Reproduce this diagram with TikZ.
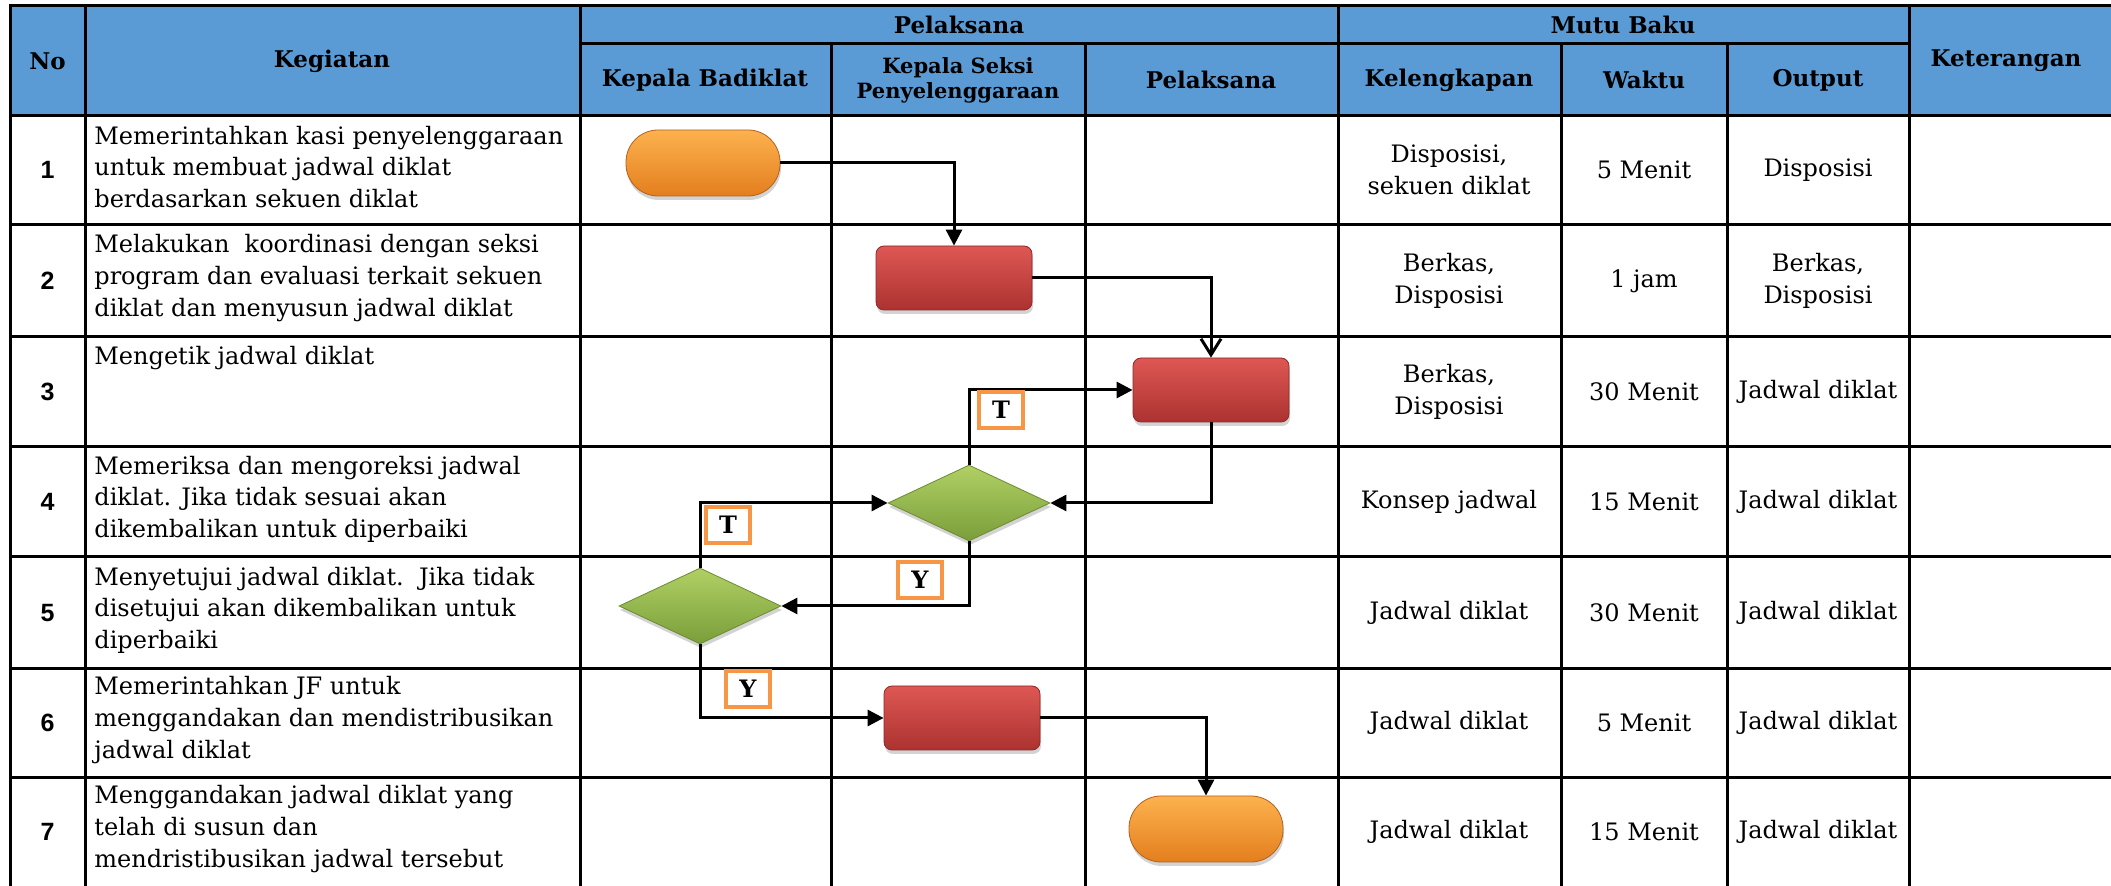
\documentclass[tikz,border=0pt]{standalone}
\usepackage{fontspec}
\setmainfont{DejaVu Serif}
\newfontfamily\nofont{Liberation Sans}
\usetikzlibrary{shapes.geometric,arrows.meta,shadows}
\definecolor{hdrblue}{RGB}{91,155,213}
\definecolor{termtop}{RGB}{252,178,78}
\definecolor{termbot}{RGB}{228,126,30}
\definecolor{termline}{RGB}{178,98,30}
\definecolor{proctop}{RGB}{222,88,84}
\definecolor{procbot}{RGB}{172,50,48}
\definecolor{procline}{RGB}{140,40,40}
\definecolor{dectop}{RGB}{176,208,100}
\definecolor{decbot}{RGB}{122,158,58}
\definecolor{decline}{RGB}{108,138,50}
\definecolor{lblorange}{RGB}{247,150,70}
\tikzset{
	gridline/.style = {line width=1.5pt, line cap=rect},
	conn/.style = {line width=1.5pt, -{Triangle[length=8pt,width=8pt]}},
	term/.style = {rectangle, rounded corners=16pt, minimum width=77pt, minimum height=33pt, top color=termtop, bottom color=termbot, draw=termline, drop shadow={shadow xshift=0.5pt,shadow yshift=-2pt,opacity=0.35}},
	proc/.style = {rectangle, rounded corners=4pt, minimum width=78pt, minimum height=32pt, top color=proctop, bottom color=procbot, draw=procline, drop shadow={shadow xshift=0.5pt,shadow yshift=-2pt,opacity=0.35}},
	dec/.style = {diamond, inner sep=0pt, minimum width=81pt, minimum height=38pt, top color=dectop, bottom color=decbot, draw=decline, drop shadow={shadow xshift=0.5pt,shadow yshift=-2pt,opacity=0.35}},
	yt/.style = {draw=lblorange, line width=2.2pt, fill=white, inner sep=0pt, minimum width=22pt, minimum height=18pt, font=\bfseries\fontsize{12}{12}\selectfont},
	hdr/.style = {font=\bfseries\fontsize{11.5}{13}\selectfont, align=center},
	cell/.style = {font=\fontsize{12}{15.8}\selectfont, align=center},
	task/.style = {font=\fontsize{12}{15.8}\selectfont, align=left, anchor=west, inner sep=0pt},
	num/.style = {font=\nofont\bfseries\fontsize{12.5}{14}\selectfont}
}
\begin{document}
\begin{tikzpicture}[x=0.5pt, y=-0.5pt]
	\useasboundingbox (0,0) rectangle (2111,886);
	\fill[hdrblue] (10,6) rectangle (2115,116);
	\foreach \y in {6,116,225,337,447,557,669,778}
		\draw[gridline] (10,\y) -- (2115,\y);
	\draw[gridline] (580,44) -- (1909,44);
	\foreach \x in {10,85,580,1338,1909}
		\draw[gridline] (\x,6) -- (\x,890);
	\foreach \x in {831,1085,1561,1727}
		\draw[gridline] (\x,44) -- (\x,890);
	% header
	\node[hdr] (hNo) at (47.5,61) {No};
	\node[hdr] (hKeg) at (332,61) {Kegiatan};
	\node[hdr] (hPel) at (959,25) {Pelaksana};
	\node[hdr] (hMutu) at (1623,25) {Mutu Baku};
	\node[hdr] (hKB) at (705,80) {Kepala Badiklat};
	\node[hdr, font=\bfseries\fontsize{10.5}{12.5}\selectfont] (hKS) at (958,80) {Kepala Seksi\\Penyelenggaraan};
	\node[hdr] (hP) at (1211,80) {Pelaksana};
	\node[hdr] (hKel) at (1449,80) {Kelengkapan};
	\node[hdr] (hWak) at (1644,80) {Waktu};
	\node[hdr] (hOut) at (1818,80) {Output};
	\node[hdr] (hKet) at (2006,61) {Keterangan};
	% nomor dan kegiatan
	\foreach \i/\y in {1/170,2/281,3/392,4/502,5/613,6/723,7/832}
		\node[num] (no\i) at (47.5,\y) {\i};
	\node[task] (k1) at (94,167) {Memerintahkan kasi penyelenggaraan\\untuk membuat jadwal diklat\\berdasarkan sekuen diklat};
	\node[task] (k2) at (94,278) {Melakukan\ \ koordinasi dengan seksi\\program dan evaluasi terkait sekuen\\diklat dan menyusun jadwal diklat};
	\node[task, anchor=north west] (k3) at (94,346) {Mengetik jadwal diklat};
	\node[task] (k4) at (94,499) {Memeriksa dan mengoreksi jadwal\\diklat. Jika tidak sesuai akan\\dikembalikan untuk diperbaiki};
	\node[task] (k5) at (94,610) {Menyetujui jadwal diklat.\ \ Jika tidak\\disetujui akan dikembalikan untuk\\diperbaiki};
	\node[task] (k6) at (94,720) {Memerintahkan JF untuk\\menggandakan dan mendistribusikan\\jadwal diklat};
	\node[task] (k7) at (94,829) {Menggandakan jadwal diklat yang\\telah di susun dan\\mendristibusikan jadwal tersebut};
	% mutu baku
	\foreach \i/\y/\kel/\wak/\out in {1/170/{Disposisi,\\sekuen diklat}/5 Menit/Disposisi,
			2/281/{Berkas,\\Disposisi}/1 jam/{Berkas,\\Disposisi},
			3/392/{Berkas,\\Disposisi}/30 Menit/Jadwal diklat,
			4/502/Konsep jadwal/15 Menit/Jadwal diklat,
			5/613/Jadwal diklat/30 Menit/Jadwal diklat,
			6/723/Jadwal diklat/5 Menit/Jadwal diklat,
			7/832/Jadwal diklat/15 Menit/Jadwal diklat}{
		\node[cell] (kel\i) at (1449,\y) {\kel};
		\node[cell] (wak\i) at (1644,\y) {\wak};
		\node[cell] (out\i) at (1818,\y) {\out};
	}
	% alur
	\node[term] (t1) at (703,163) {};
	\node[proc] (p2) at (954,278) {};
	\node[proc] (p3) at (1211,390) {};
	\node[dec] (d4) at (969,503) {};
	\node[dec] (d5) at (700,606) {};
	\node[proc] (p6) at (962,718) {};
	\node[term] (t7) at (1206,829) {};
	\draw[conn] (t1.east) -| (p2.north);
	\draw[conn, -{Straight Barb[length=8pt,width=10pt]}] (p2.east) -| (p3.north);
	\draw[conn] (p3.south) |- (d4.east);
	\draw[conn] (d4.north) |- (p3.west);
	\draw[conn] (d4.south) |- (d5.east);
	\draw[conn] (d5.north) |- (d4.west);
	\draw[conn] (d5.south) |- (p6.west);
	\draw[conn] (p6.east) -| (t7.north);
	\node[yt] (lT1) at (1001,410) {T};
	\node[yt] (lT2) at (728,525) {T};
	\node[yt] (lY1) at (920,580) {Y};
	\node[yt] (lY2) at (748,689) {Y};
\end{tikzpicture}
\end{document}
